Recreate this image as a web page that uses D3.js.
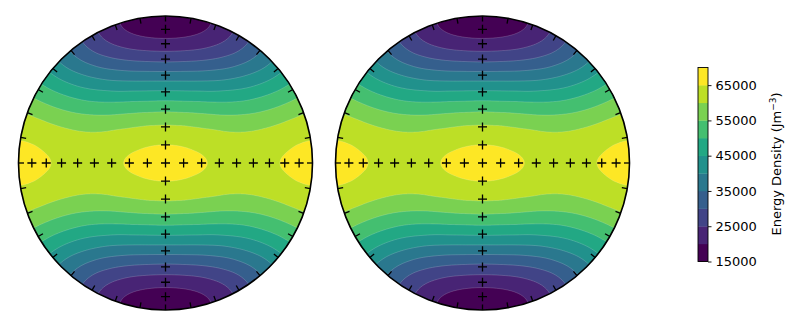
<!DOCTYPE html>
<html>
<head>
<meta charset="utf-8">
<script src="https://cdn.jsdelivr.net/npm/d3@7"></script>
<style>
  body { margin: 0; background: #fff; }
  svg { display: block; font-family: "DejaVu Sans", sans-serif; }
</style>
</head>
<body>
<svg id="chart" width="798" height="328"></svg>
<script>
// contour levels, J m^-3
var levels = d3.range(15000, 70001, 5000);
var colorbarTicks = [15000, 25000, 35000, 45000, 55000, 65000];

// energy density read off the nets
// rows: angle from the centre of the net (deg), cols: angle away from the E-W line (deg)
// the other three quadrants are mirror images of this one
var offCentre = [0, 10, 20, 30, 40, 50, 60, 70, 80, 90];
var fromEW = [0, 15, 30, 45, 60, 75, 90];
var energyLeft = [
  [66500, 66500, 66500, 66500, 66500, 66500, 66500],
  [66200, 66100, 65900, 65600, 65300, 65100, 65000],
  [65300, 65000, 64100, 62900, 61800, 60900, 60600],
  [64400, 63700, 61700, 59000, 56400, 54500, 53900],
  [63800, 62500, 58900, 54300, 49900, 46700, 45600],
  [63800, 61800, 56400, 49500, 42900, 38500, 36900],
  [64400, 61700, 54400, 45100, 36500, 30700, 28600],
  [65300, 61900, 53000, 41700, 31300, 24300, 21900],
  [66200, 62300, 52200, 39500, 27900, 20200, 17500],
  [66500, 62500, 52000, 38800, 26800, 18800, 16000]
];
var energyRight = energyLeft;

// measured directions (+): trend and plunge, deg
var pointTrends = [0, 90, 180, 270];
var pointPlunges = [90, 80, 70, 60, 50, 40, 30, 20, 10];

// azimuth ticks on the rim
var rimTicks = d3.range(0, 360, 10);

var svg = d3.select("#chart");
var R = 147;
var panels = [
  { cx: 165.5, cy: 163, grid: energyLeft },
  { cx: 482.5, cy: 163, grid: energyRight }
];

var nBands = levels.length - 1;
function bandColor(i) { return d3.interpolateViridis(i / (nBands - 1)); }

// mirrored index into the table
function mirror(i, n) {
  if (i < 0) return -i;
  if (i > n - 1) return 2 * (n - 1) - i;
  return i;
}
function catmull(p0, p1, p2, p3, t) {
  return 0.5 * (2 * p1 + (-p0 + p2) * t + (2 * p0 - 5 * p1 + 4 * p2 - p3) * t * t +
    (-p0 + 3 * p1 - 3 * p2 + p3) * t * t * t);
}
function lookup(grid, th, al) {
  var dTh = offCentre[1] - offCentre[0], dAl = fromEW[1] - fromEW[0];
  var nr = offCentre.length, nc = fromEW.length;
  var fi = th / dTh, fj = al / dAl;
  var i = Math.min(Math.floor(fi), nr - 2), j = Math.min(Math.floor(fj), nc - 2);
  var ti = fi - i, tj = fj - j;
  var col = [];
  for (var a = -1; a <= 2; a++) {
    var row = grid[mirror(i + a, nr)];
    col.push(catmull(row[mirror(j - 1, nc)], row[mirror(j, nc)], row[mirror(j + 1, nc)], row[mirror(j + 2, nc)], tj));
  }
  return catmull(col[0], col[1], col[2], col[3], ti);
}

// equal-area (Schmidt) net: angle from centre -> radius on unit disk
function eqArea(deg) { return Math.SQRT2 * Math.sin(deg * Math.PI / 360); }

panels.forEach(function (p, k) {
  var x = d3.scaleLinear().domain([-1, 1]).range([p.cx - R, p.cx + R]);
  var y = d3.scaleLinear().domain([-1, 1]).range([p.cy + R, p.cy - R]);
  var g = svg.append("g");

  var clipId = "clip" + k;
  svg.append("clipPath").attr("id", clipId)
    .append("circle").attr("cx", x(0)).attr("cy", y(0)).attr("r", x(1) - x(0));

  // sample the field on a grid over the net
  var n = 300;
  var values = new Array(n * n);
  for (var gy = 0; gy < n; gy++) {
    for (var gx = 0; gx < n; gx++) {
      var u = -1 + (gx + 0.5) * 2 / n;
      var v = 1 - (gy + 0.5) * 2 / n;
      var rho = Math.min(1, Math.sqrt(u * u + v * v));
      var th = 2 * Math.asin(rho / Math.SQRT2) * 180 / Math.PI;
      var al = Math.atan2(Math.abs(v), Math.abs(u)) * 180 / Math.PI;
      values[gy * n + gx] = lookup(p.grid, th, al);
    }
  }
  var contours = d3.contours().size([n, n]).thresholds(levels.slice(1, -1))(values);
  var path = d3.geoPath(d3.geoIdentity()
    .scale((x(1) - x(-1)) / n)
    .translate([x(-1), y(1)]));

  var field = g.append("g").attr("clip-path", "url(#" + clipId + ")");
  field.append("circle")
    .attr("cx", x(0)).attr("cy", y(0)).attr("r", x(1) - x(0))
    .attr("fill", bandColor(0));
  field.selectAll("path.band").data(contours).enter().append("path")
    .attr("class", "band")
    .attr("d", path)
    .attr("fill", function (d, i) { return bandColor(i + 1); });
  field.selectAll("path.edge").data(contours).enter().append("path")
    .attr("class", "edge")
    .attr("d", path)
    .attr("fill", "none")
    .attr("stroke", "#fff")
    .attr("stroke-opacity", 0.3)
    .attr("stroke-width", 0.6);

  // measured points
  var pts = [];
  pointTrends.forEach(function (t) {
    pointPlunges.forEach(function (pl) {
      if (pl === 90 && t !== 0) return;
      var r = eqArea(90 - pl), a = t * Math.PI / 180;
      pts.push([r * Math.sin(a), r * Math.cos(a)]);
    });
  });
  g.selectAll("path.pt").data(pts).enter().append("path")
    .attr("class", "pt")
    .attr("transform", function (d) { return "translate(" + x(d[0]) + "," + y(d[1]) + ")"; })
    .attr("d", "M-4.5,0H4.5M0,-4.5V4.5")
    .attr("stroke", "#000")
    .attr("stroke-width", 1.3);

  // rim and its ticks
  g.append("circle")
    .attr("cx", x(0)).attr("cy", y(0)).attr("r", x(1) - x(0))
    .attr("fill", "none").attr("stroke", "#000").attr("stroke-width", 1.6);
  var tickLen = 5.5 / R;
  g.selectAll("line.rim").data(rimTicks).enter().append("line")
    .attr("class", "rim")
    .attr("x1", function (d) { return x(Math.sin(d * Math.PI / 180)); })
    .attr("y1", function (d) { return y(Math.cos(d * Math.PI / 180)); })
    .attr("x2", function (d) { return x((1 - tickLen) * Math.sin(d * Math.PI / 180)); })
    .attr("y2", function (d) { return y((1 - tickLen) * Math.cos(d * Math.PI / 180)); })
    .attr("stroke", "#000").attr("stroke-width", 1.3);
});

// colorbar
var cbX = 698, cbW = 10;
var cbY = d3.scaleLinear().domain([levels[0], levels[levels.length - 1]]).range([261.5, 67.5]);
var cb = svg.append("g");
cb.selectAll("rect").data(d3.range(nBands)).enter().append("rect")
  .attr("x", cbX).attr("width", cbW)
  .attr("y", function (i) { return cbY(levels[i + 1]); })
  .attr("height", function (i) { return cbY(levels[i]) - cbY(levels[i + 1]) + 0.3; })
  .attr("fill", function (i) { return bandColor(i); });
cb.append("rect")
  .attr("x", cbX).attr("y", cbY.range()[1])
  .attr("width", cbW).attr("height", cbY.range()[0] - cbY.range()[1])
  .attr("fill", "none").attr("stroke", "#000").attr("stroke-width", 0.9);
var axis = svg.append("g")
  .attr("transform", "translate(" + (cbX + cbW) + ",0)")
  .call(d3.axisRight(cbY).tickValues(colorbarTicks).tickFormat(d3.format("d")).tickSize(3.5).tickPadding(4));
axis.select(".domain").remove();
axis.selectAll("text").attr("font-size", "13px").attr("font-family", "DejaVu Sans").attr("fill", "#000");
axis.selectAll("line").attr("stroke", "#000").attr("stroke-width", 0.9);

var label = svg.append("text")
  .attr("transform", "translate(781,164) rotate(-90)")
  .attr("text-anchor", "middle")
  .attr("font-size", "13px")
  .attr("fill", "#000");
label.append("tspan").text("Energy Density (Jm");
label.append("tspan").attr("dy", -5).attr("font-size", "9px").text("\u22123");
label.append("tspan").attr("dy", 5).text(")");
</script>
</body>
</html>
